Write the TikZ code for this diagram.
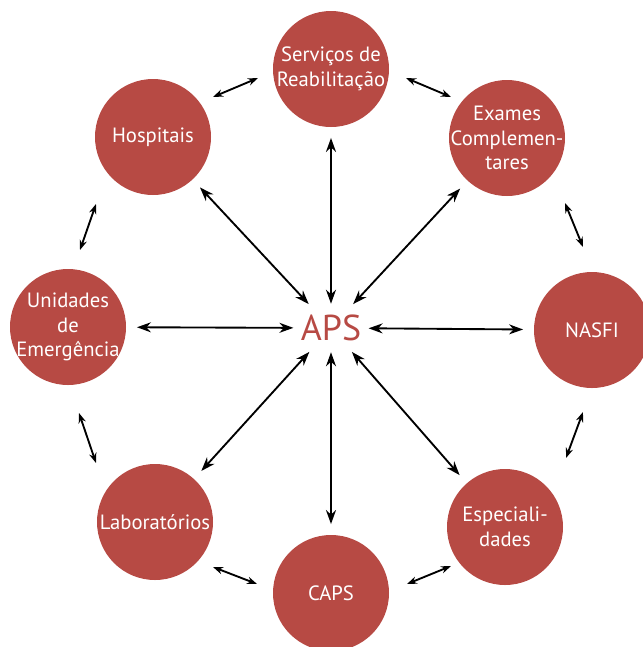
\documentclass[tikz,border=0pt]{standalone}
\usepackage{fontspec}
\setmainfont{PT Sans}
\usepackage{tikz}
\usetikzlibrary{arrows.meta}
\usepackage{xcolor}

\definecolor{apsred}{RGB}{183,74,68}

\tikzset{
  circtext/.style={text=white, align=center, inner sep=0pt, font=\fontsize{15.5}{18.5}\selectfont},
  circnode/.style={circle, fill=apsred, draw=none, minimum size=87pt, inner sep=0pt,
    label={[circtext]center:#1}},
  spoke/.style={{Stealth[length=10.5pt,width=7.5pt]}-{Stealth[length=10.5pt,width=7.5pt]}, line width=1.4pt, shorten <=1pt, shorten >=8pt},
  ringarr/.style={{Stealth[length=7.5pt,width=5.5pt]}-{Stealth[length=7.5pt,width=5.5pt]}, line width=1.4pt}
}

\begin{document}
\begin{tikzpicture}[x=0.75pt,y=0.75pt,yscale=-1,xscale=1]
\useasboundingbox (0,0) rectangle (643,647);

%Shape: Circle
\node [circnode={Serviços de\\Reabilitação}] (serv) at (331,69) {};
%Shape: Circle
\node [circnode={Exames\\Complemen-\\tares}] (exam) at (507,138) {};
%Shape: Circle
\node [circnode={NASFI}] (nasf) at (592,330) {};
%Shape: Circle
\node [circnode={Especiali-\\dades}] (espe) at (505,527) {};
%Shape: Circle
\node [circnode={CAPS}] (caps) at (331,593) {};
%Shape: Circle
\node [circnode={Laboratórios}] (labo) at (155,522) {};
%Shape: Circle
\node [circnode={Unidades\\de\\Emergência}] (urge) at (68,327) {};
%Shape: Circle
\node [circnode={Hospitais}] (hosp) at (153,137) {};

% Text Node
\node [text=apsred, font=\fontsize{27}{30}\selectfont, minimum width=54pt, minimum height=34pt, inner sep=0pt] (aps) at (331,328) {APS};

%Straight Lines
\draw [spoke] (aps) -- (serv);
\draw [spoke] (aps) -- (exam);
\draw [spoke] (aps) -- (nasf);
\draw [spoke] (aps) -- (espe);
\draw [spoke] (aps) -- (caps);
\draw [spoke] (aps) -- (labo);
\draw [spoke] (aps) -- (urge);
\draw [spoke] (aps) -- (hosp);

%Ring arrow ends
\coordinate (r1a) at (406,78);  \coordinate (r1b) at (451,97);
\coordinate (r2a) at (565,203); \coordinate (r2b) at (583,247);
\coordinate (r3a) at (583,412); \coordinate (r3b) at (566,458);
\coordinate (r4a) at (451,566); \coordinate (r4b) at (407,584);
\coordinate (r5a) at (257,584); \coordinate (r5b) at (213,567);
\coordinate (r6a) at (96,463);  \coordinate (r6b) at (79,413);
\coordinate (r7a) at (80,250);  \coordinate (r7b) at (96,204);
\coordinate (r8a) at (213,97);  \coordinate (r8b) at (258,78);

%Straight Lines
\draw [ringarr] (r1a) -- (r1b);
\draw [ringarr] (r2a) -- (r2b);
\draw [ringarr] (r3a) -- (r3b);
\draw [ringarr] (r4a) -- (r4b);
\draw [ringarr] (r5a) -- (r5b);
\draw [ringarr] (r6a) -- (r6b);
\draw [ringarr] (r7a) -- (r7b);
\draw [ringarr] (r8a) -- (r8b);

\end{tikzpicture}
\end{document}
